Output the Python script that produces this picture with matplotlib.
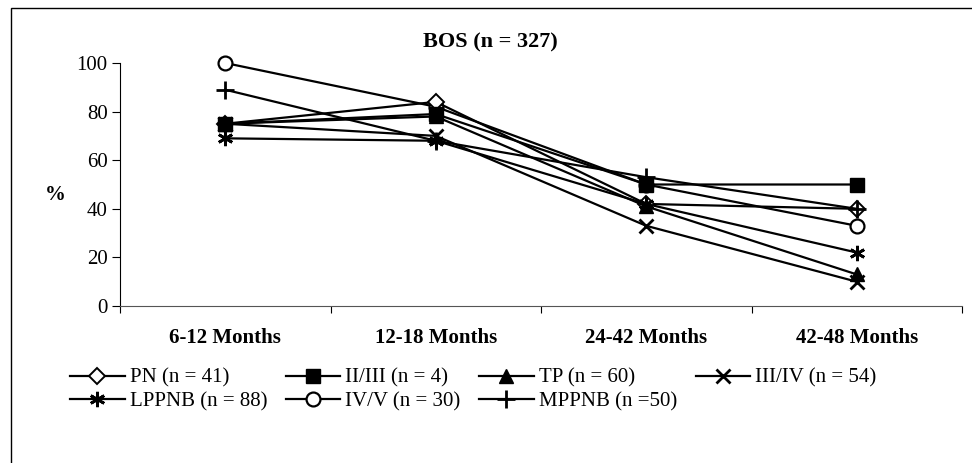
import matplotlib.pyplot as plt
from matplotlib.patches import Rectangle

plt.rcParams['font.family'] = ['Liberation Serif', 'DejaVu Serif']

periods = ['6-12 Months', '12-18 Months', '24-42 Months', '42-48 Months']

pn = [75, 84, 42, 40]
ii_iii = [75, 79, 50, 50]
tp = [75, 78, 41, 13]
iii_iv = [75, 70, 33, 10]
lppnb = [69, 68, 42, 22]
iv_v = [100, 82, 50, 33]
mppnb = [89, 68, 53, 40]

series = [
    ('PN (n = 41)', pn, dict(marker='D', markersize=8.5, markerfacecolor='white',
                             markeredgewidth=1.4, zorder=3)),
    ('II/III (n = 4)', ii_iii, dict(marker='s', markersize=10.5, zorder=3)),
    ('TP (n = 60)', tp, dict(marker='^', markersize=10.5, zorder=3)),
    ('III/IV (n = 54)', iii_iv, dict(marker='x', markersize=10, markeredgewidth=2, zorder=3)),
    ('LPPNB (n = 88)', lppnb, dict(marker=(6, 2, 0), markersize=11, markeredgewidth=2, zorder=3)),
    ('IV/V (n = 30)', iv_v, dict(marker='o', markersize=10, markerfacecolor='white',
                                 markeredgewidth=1.6, zorder=2.5)),
    ('MPPNB (n =50)', mppnb, dict(marker='+', markersize=13, markeredgewidth=2, zorder=3)),
]

fig = plt.figure(figsize=(9.72, 4.63), dpi=100)
ax = fig.add_axes([120 / 972, 157 / 463, 842 / 972, 243 / 463])

x = list(range(len(periods)))
lines = {}
for label, vals, style in series:
    lines[label], = ax.plot(x, vals, color='black', linewidth=1.6,
                            markeredgecolor='black', label=label,
                            clip_on=False, **style)

ax.set_xlim(-0.5, len(periods) - 0.5)
ax.set_ylim(0, 100)
ax.set_yticks(range(0, 101, 20))
ax.tick_params(axis='y', labelsize=15, length=6, width=0.8, pad=3)

# category labels sit between the boundary ticks
ax.set_xticks([i - 0.5 for i in range(len(periods) + 1)])
ax.set_xticklabels([])
ax.tick_params(axis='x', which='major', length=5, width=0.8)
ax.set_xticks(x, minor=True)
ax.set_xticklabels(periods, minor=True, fontsize=15, fontweight='bold')
ax.tick_params(axis='x', which='minor', length=0, pad=16)

for side in ('top', 'right'):
    ax.spines[side].set_visible(False)
ax.spines['left'].set_linewidth(0.8)
ax.spines['bottom'].set_linewidth(0.8)
ax.spines['bottom'].set_color('#555555')

fig.text(55 / 972, 1 - 195 / 463, '%', fontsize=15, fontweight='bold',
         ha='center', va='center')
fig.text(490 / 972, 1 - 42 / 463, 'BOS (n = 327)', fontsize=16,
         fontweight='bold', ha='center', va='center')

order = ['PN (n = 41)', 'LPPNB (n = 88)', 'II/III (n = 4)', 'IV/V (n = 30)',
         'TP (n = 60)', 'MPPNB (n =50)', 'III/IV (n = 54)']
fig.legend([lines[k] for k in order], order, ncol=4, frameon=False,
           loc='upper left', bbox_to_anchor=(62 / 972, 1 - 360 / 463),
           fontsize=15, handlelength=2.6, handletextpad=0.25,
           columnspacing=0.9, labelspacing=0.2, borderaxespad=0)

# outer frame runs off the right and bottom edges
fig.add_artist(Rectangle((11 / 972, -0.1), 1.0, 1.1 - 8 / 463,
                         transform=fig.transFigure, fill=False,
                         edgecolor='black', linewidth=1))

fig.savefig('out.png', dpi=100)
